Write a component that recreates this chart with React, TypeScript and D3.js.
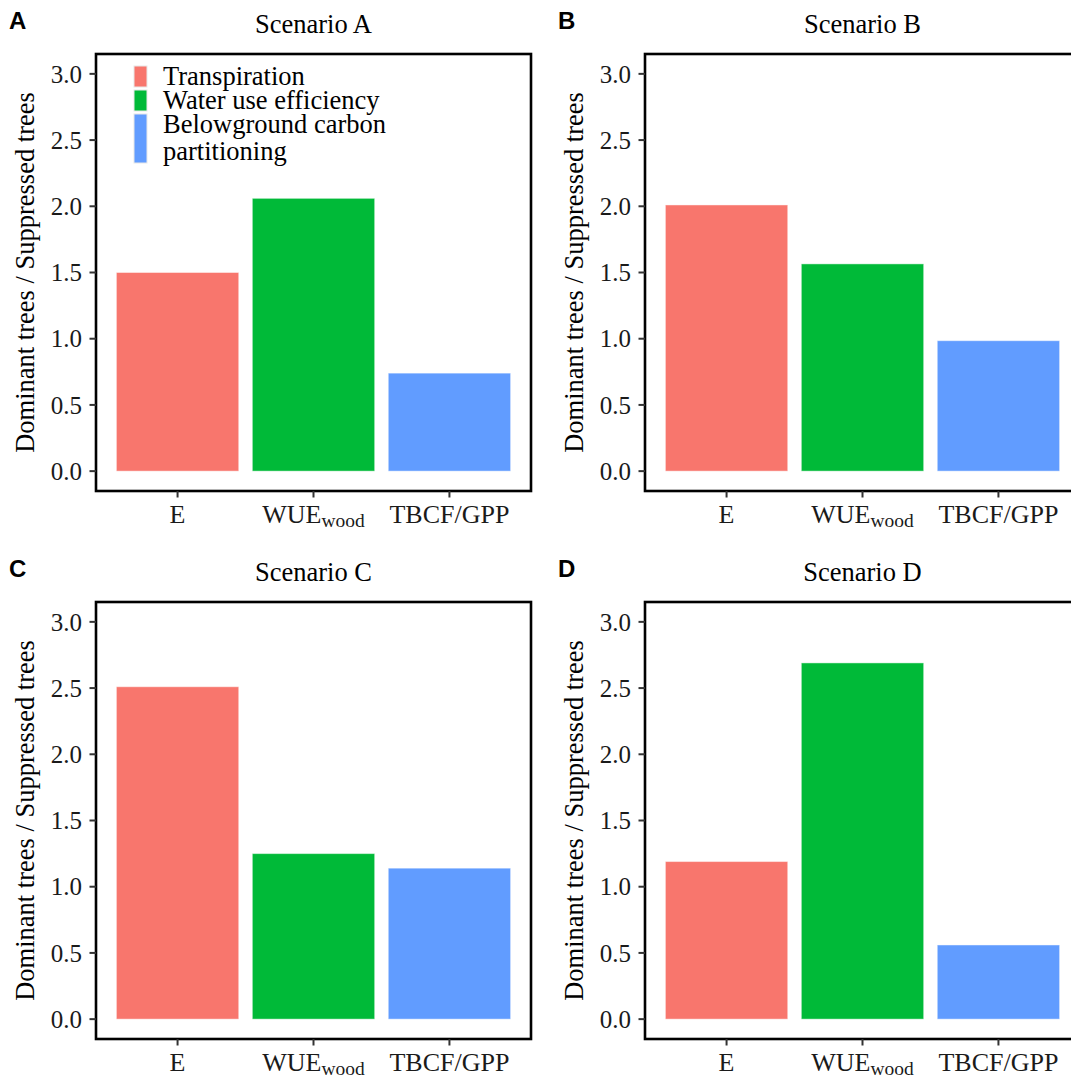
import React from "react";
import * as d3 from "d3";

const categories = ["E", "WUE", "TBCF/GPP"];
const scenarios = ["Scenario A", "Scenario B", "Scenario C", "Scenario D"];
const panelLetters = ["A", "B", "C", "D"];
const valuesA = [1.5, 2.06, 0.74];
const valuesB = [2.01, 1.565, 0.985];
const valuesC = [2.51, 1.25, 1.14];
const valuesD = [1.19, 2.69, 0.56];
const seriesValues = [valuesA, valuesB, valuesC, valuesD];
const colors = ["#F8766D", "#00BA38", "#619CFF"];
const legendLabels = [["Transpiration"], ["Water use efficiency"], ["Belowground carbon", "partitioning"]];
const yTicks = [0, 0.5, 1, 1.5, 2, 2.5, 3];

const W = 1071;
const H = 1078;
const FONT = "'Liberation Serif', 'Times New Roman', serif";
const SANS = "'Liberation Sans', Arial, sans-serif";

const panelW = 435;
const panelH = 437;
const origins = [
  [96, 54],
  [645, 54],
  [96, 602],
  [645, 602],
];

function XLabel({ cat, x, y }: { cat: string; x: number; y: number }) {
  if (cat === "WUE") {
    return (
      <text x={x} y={y} textAnchor="middle" fontFamily={FONT} fontSize={26} fill="#1a1a1a">
        WUE
        <tspan fontSize={19.5} dy={4}>wood</tspan>
      </text>
    );
  }
  return (
    <text x={x} y={y} textAnchor="middle" fontFamily={FONT} fontSize={26} fill="#1a1a1a">
      {cat}
    </text>
  );
}

function Panel({ idx }: { idx: number }) {
  const [x0, y0] = origins[idx];
  const vals = seriesValues[idx];
  const x = d3
    .scaleBand<string>()
    .domain(categories)
    .range([x0, x0 + panelW])
    .paddingInner(0.1)
    .paddingOuter(0.15);
  const y = d3.scaleLinear().domain([-0.15, 3.15]).range([y0 + panelH, y0]);
  const fmt = d3.format(".1f");
  const cx = x0 + panelW / 2;
  const cy = y0 + panelH / 2;
  return (
    <g>
      <text x={x0 - 87} y={y0 - 25} fontFamily={SANS} fontWeight="bold" fontSize={24} fill="#000">
        {panelLetters[idx]}
      </text>
      <text x={cx} y={y0 - 21} textAnchor="middle" fontFamily={FONT} fontSize={26.5} fill="#000">
        {scenarios[idx]}
      </text>
      {vals.map((v, i) => (
        <rect
          key={i}
          x={x(categories[i])!}
          width={x.bandwidth()}
          y={y(v)}
          height={y(0) - y(v)}
          fill={colors[i]}
          stroke="#ffffff"
          strokeOpacity={0.45}
          strokeWidth={1}
        />
      ))}
      <rect x={x0} y={y0} width={panelW} height={panelH} fill="none" stroke="#000" strokeWidth={2.6} />
      {yTicks.map((t) => (
        <g key={t}>
          <line x1={x0 - 6.5} x2={x0} y1={y(t)} y2={y(t)} stroke="#333" strokeWidth={2} />
          <text
            x={x0 - 14}
            y={y(t)}
            dy="0.35em"
            textAnchor="end"
            fontFamily={FONT}
            fontSize={25}
            fill="#1a1a1a"
          >
            {fmt(t)}
          </text>
        </g>
      ))}
      {categories.map((c) => {
        const xc = x(c)! + x.bandwidth() / 2;
        return (
          <g key={c}>
            <line x1={xc} x2={xc} y1={y0 + panelH} y2={y0 + panelH + 6.5} stroke="#333" strokeWidth={2} />
            <XLabel cat={c} x={xc} y={y0 + panelH + 32} />
          </g>
        );
      })}
      <text
        transform={`translate(${x0 - 62},${cy}) rotate(-90)`}
        textAnchor="middle"
        fontFamily={FONT}
        fontSize={26.5}
        fill="#000"
      >
        Dominant trees / Suppressed trees
      </text>
      {idx === 0 && <Legend x0={x0} y0={y0} />}
    </g>
  );
}

function Legend({ x0, y0 }: { x0: number; y0: number }) {
  const keyX = x0 + 38;
  const textX = x0 + 67;
  const lineH = 24;
  let cur = y0 + 11;
  const items = legendLabels.map((lines, i) => {
    const h = lines.length * lineH + (lines.length > 1 ? 4 : 0);
    const top = cur;
    cur += h;
    return (
      <g key={i}>
        <rect x={keyX} y={top + 1} width={13} height={h - 3} fill={colors[i]} stroke="#e8e8e8" strokeWidth={1} />
        {lines.map((l, j) => (
          <text
            key={j}
            x={textX}
            y={top + 19.5 + j * (lineH + 3)}
            fontFamily={FONT}
            fontSize={26.5}
            fill="#000"
          >
            {l}
          </text>
        ))}
      </g>
    );
  });
  return <g>{items}</g>;
}

export default function App() {
  return (
    <svg
      width={W}
      height={H}
      style={{ position: "absolute", left: 0, top: 0, background: "#fff" }}
    >
      <rect x={0} y={0} width={W} height={H} fill="#fff" />
      {[0, 1, 2, 3].map((i) => (
        <Panel key={i} idx={i} />
      ))}
    </svg>
  );
}
